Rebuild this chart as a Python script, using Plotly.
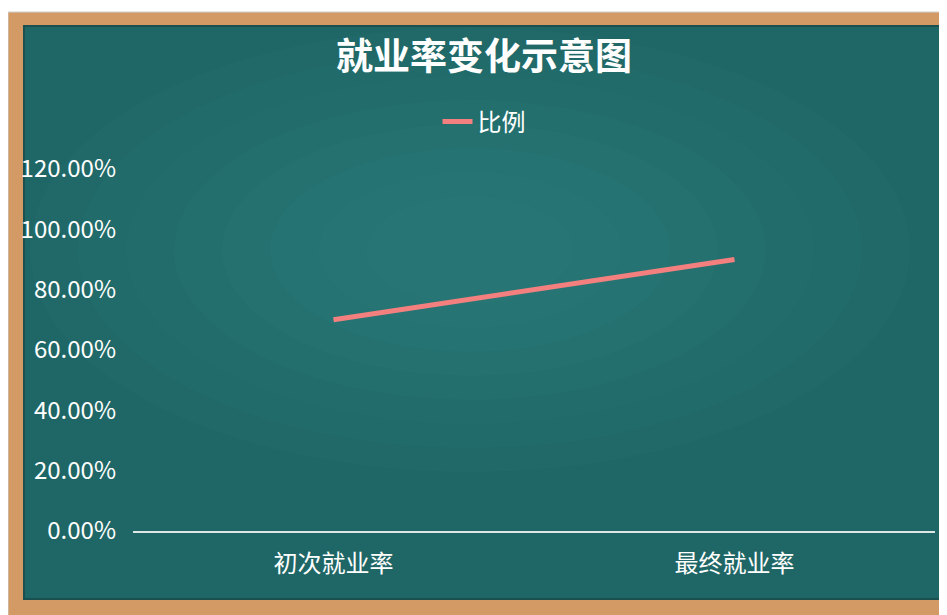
import plotly.graph_objects as go

categories = ["初次就业率", "最终就业率"]
values = [0.70, 0.90]
series_name = "比例"
title_text = "就业率变化示意图"
tick_vals = [0, 0.2, 0.4, 0.6, 0.8, 1.0, 1.2]
tick_text = ["0.00%", "20.00%", "40.00%", "60.00%", "80.00%", "100.00%", "120.00%"]

W, H = 947, 615
OFF = 8  # page body margin
L, R, T, B = 125, 20, 161, 92
PW, PH = W - L - R, H - T - B

def px(x):
    return (x - OFF - L) / PW
def py(y):
    return (H - B - (y - OFF)) / PH

FONT = "Noto Sans CJK SC"

fig = go.Figure()
fig.add_trace(go.Scatter(
    x=categories, y=values, mode="lines", name=series_name,
    line=dict(color="#F3807E", width=5),
))

shapes = []
# wooden frame
shapes.append(dict(type="rect", xref="paper", yref="paper", x0=px(8), x1=px(960), y0=py(630), y1=py(12),
                   fillcolor="#D39A66", line=dict(color="#CFCFCF", width=1), layer="below"))
# chalkboard
shapes.append(dict(type="rect", xref="paper", yref="paper", x0=px(24), x1=px(944), y0=py(599), y1=py(26),
                   fillcolor="#1F6766", line=dict(color="#1A5150", width=2), layer="below"))
# soft lighter glow layers (kept inside the board)
cx, cy = 470, 250
for i in range(8):
    rx = 440 - i * 48
    ry = 222 - i * 24
    shapes.append(dict(type="circle", xref="paper", yref="paper",
                       x0=px(cx - rx), x1=px(cx + rx), y0=py(cy + ry), y1=py(cy - ry),
                       fillcolor="#33908D", opacity=0.07, line=dict(width=0), layer="below"))

fig.update_layout(
    width=W, height=H,
    paper_bgcolor="white", plot_bgcolor="rgba(0,0,0,0)",
    margin=dict(l=L, r=R, t=T, b=B),
    shapes=shapes,
    title=dict(text="<b>" + title_text + "</b>", x=(484 - OFF) / W, xanchor="center", xref="container",
               y=1 - (57 - OFF) / H, yanchor="middle", yref="container",
               font=dict(family=FONT, size=37, color="white")),
    showlegend=True,
    legend=dict(orientation="h", x=px(484), xanchor="center", y=py(122), yanchor="middle",
                font=dict(family=FONT, size=24, color="white"), bgcolor="rgba(0,0,0,0)"),
    xaxis=dict(range=[-0.5, 1.5], showgrid=False, zeroline=False, showline=True, linecolor="#DDE8E6",
               linewidth=2, ticks="", tickfont=dict(family=FONT, size=24, color="white"),
               ticklabelstandoff=10),
    yaxis=dict(range=[0, 1.2], showgrid=False, zeroline=False, showline=False,
               tickvals=tick_vals, ticktext=tick_text, ticks="",
               tickfont=dict(family=FONT, size=24, color="white"), ticklabelstandoff=16),
)

fig.write_html("out.html")
